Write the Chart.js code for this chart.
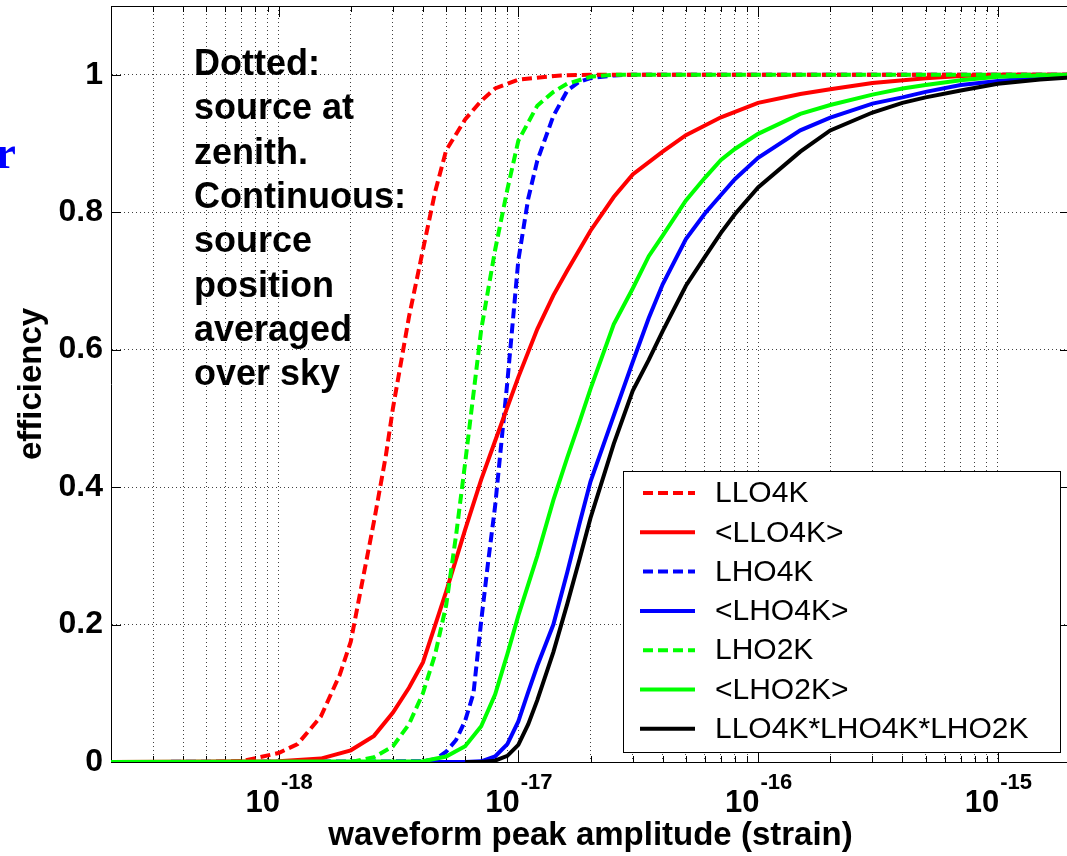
<!DOCTYPE html>
<html>
<head>
<meta charset="utf-8">
<script src="https://cdn.jsdelivr.net/npm/chart.js@4.4.1/dist/chart.umd.min.js"></script>
<style>
  html, body { margin: 0; padding: 0; background: #fff; overflow: hidden; }
  #wrap { position: absolute; left: 0; top: 0; width: 1080px; height: 856px; }
</style>
</head>
<body>
<div id="wrap"><canvas id="c"></canvas></div>
<script>
// ---------- data ----------
const seriesLabels = ['LLO4K', '<LLO4K>', 'LHO4K', '<LHO4K>', 'LHO2K', '<LHO2K>', 'LLO4K*LHO4K*LHO2K'];

const llo4kZenithX = [2e-19, 5e-19, 7e-19, 1e-18, 1.2e-18, 1.5e-18, 1.8e-18, 2e-18, 2.2e-18, 2.5e-18, 2.8e-18, 3e-18, 3.5e-18, 4e-18, 4.5e-18, 5e-18, 6e-18, 7e-18, 8e-18, 1e-17, 1.5e-17, 2e-17, 2e-15];
const llo4kZenithY = [0, 0, 0.001, 0.013, 0.026, 0.066, 0.127, 0.175, 0.25, 0.35, 0.445, 0.515, 0.648, 0.745, 0.83, 0.89, 0.935, 0.962, 0.98, 0.993, 0.999, 1, 1];

const llo4kAvgX = [2e-19, 1e-18, 1.5e-18, 2e-18, 2.5e-18, 3e-18, 3.5e-18, 4e-18, 5e-18, 6e-18, 7e-18, 8e-18, 1e-17, 1.2e-17, 1.4e-17, 1.6e-17, 2e-17, 2.5e-17, 3e-17, 4e-17, 5e-17, 7e-17, 1e-16, 1.5e-16, 2e-16, 3e-16, 5e-16, 7e-16, 1e-15, 2e-15];
const llo4kAvgY = [0, 0.001, 0.005, 0.017, 0.038, 0.072, 0.108, 0.145, 0.248, 0.338, 0.411, 0.467, 0.56, 0.63, 0.679, 0.715, 0.773, 0.822, 0.855, 0.888, 0.912, 0.938, 0.959, 0.972, 0.979, 0.988, 0.995, 0.998, 1, 1];

const lho4kZenithX = [2e-19, 4e-18, 4.5e-18, 5e-18, 5.5e-18, 6e-18, 6.5e-18, 7e-18, 7.5e-18, 8e-18, 9e-18, 1e-17, 1.1e-17, 1.2e-17, 1.4e-17, 1.6e-17, 1.8e-17, 2e-17, 2.5e-17, 3e-17, 2e-15];
const lho4kZenithY = [0, 0.001, 0.004, 0.015, 0.032, 0.06, 0.1, 0.205, 0.294, 0.372, 0.553, 0.73, 0.82, 0.875, 0.94, 0.977, 0.99, 0.995, 0.999, 1, 1];

const lho4kAvgX = [2e-19, 6e-18, 7e-18, 8e-18, 9e-18, 1e-17, 1.1e-17, 1.2e-17, 1.4e-17, 1.6e-17, 1.8e-17, 2e-17, 2.5e-17, 3e-17, 3.5e-17, 4e-17, 5e-17, 6e-17, 7e-17, 8e-17, 1e-16, 1.5e-16, 2e-16, 3e-16, 4e-16, 5e-16, 7e-16, 1e-15, 1.5e-15, 2e-15];
const lho4kAvgY = [0, 0, 0.001, 0.008, 0.026, 0.059, 0.102, 0.14, 0.2, 0.276, 0.347, 0.408, 0.504, 0.582, 0.646, 0.695, 0.761, 0.798, 0.825, 0.848, 0.879, 0.919, 0.9375, 0.958, 0.967, 0.975, 0.985, 0.991, 0.996, 0.999];

const lho2kZenithX = [2e-19, 2e-18, 2.5e-18, 3e-18, 3.5e-18, 4e-18, 4.5e-18, 5e-18, 5.5e-18, 6e-18, 7e-18, 8e-18, 9e-18, 1e-17, 1.2e-17, 1.4e-17, 1.6e-17, 2e-17, 2.5e-17, 2e-15];
const lho2kZenithY = [0, 0, 0.007, 0.023, 0.055, 0.1, 0.157, 0.228, 0.33, 0.435, 0.629, 0.745, 0.833, 0.904, 0.955, 0.975, 0.987, 0.997, 1, 1];

const lho2kAvgX = [2e-19, 4e-18, 5e-18, 6e-18, 7e-18, 8e-18, 9e-18, 1e-17, 1.2e-17, 1.4e-17, 1.6e-17, 1.8e-17, 2e-17, 2.5e-17, 3e-17, 3.5e-17, 4e-17, 5e-17, 6e-17, 7e-17, 8e-17, 1e-16, 1.5e-16, 2e-16, 3e-16, 4e-16, 5e-16, 7e-16, 1e-15, 1.5e-15, 2e-15];
const lho2kAvgY = [0, 0.001, 0.008, 0.023, 0.052, 0.098, 0.157, 0.213, 0.3, 0.381, 0.443, 0.495, 0.543, 0.637, 0.689, 0.736, 0.766, 0.817, 0.85, 0.876, 0.892, 0.914, 0.943, 0.956, 0.971, 0.98, 0.985, 0.992, 0.997, 0.999, 1];

const productX = [6e-18, 7e-18, 8e-18, 9e-18, 1e-17, 1.1e-17, 1.2e-17, 1.4e-17, 1.6e-17, 1.8e-17, 2e-17, 2.5e-17, 3e-17, 3.5e-17, 4e-17, 5e-17, 6e-17, 7e-17, 8e-17, 1e-16, 1.5e-16, 2e-16, 3e-16, 4e-16, 5e-16, 7e-16, 1e-15, 1.5e-15, 2e-15];
const productY = [0, 0, 0.002, 0.009, 0.025, 0.055, 0.09, 0.16, 0.23, 0.295, 0.355, 0.463, 0.54, 0.585, 0.627, 0.693, 0.735, 0.77, 0.797, 0.836, 0.888, 0.919, 0.945, 0.959, 0.967, 0.977, 0.987, 0.993, 0.996];

// axes
const xMin = 2e-19, xMax = 2e-15;
const xMajorTicks = [1e-18, 1e-17, 1e-16, 1e-15];
const xMajorExp = ['-18', '-17', '-16', '-15'];
const xMinorMantissa = [2, 3, 4, 5, 6, 7, 8, 9];
const xDecades = [1e-19, 1e-18, 1e-17, 1e-16, 1e-15];
const yMin = 0, yMax = 1.1;
const yTicks = [0, 0.2, 0.4, 0.6, 0.8, 1];
const yTickLabels = ['0', '0.2', '0.4', '0.6', '0.8', '1'];

const xTitle = 'waveform peak amplitude (strain)';
const yTitle = 'efficiency';
const noteLines = ['Dotted:', 'source at', 'zenith.', 'Continuous:', 'source', 'position', 'averaged', 'over sky'];
const cornerText = 'r';

// ---------- build ----------
const pts = (xs, ys) => xs.map((x, i) => ({ x: x, y: ys[i] }));
const FONT = '"Liberation Sans", Arial, Helvetica, sans-serif';
const DASH = [10, 5];
const LW = 4;

// z: lower value = drawn on top
const seriesDefs = [
  { x: llo4kZenithX, y: llo4kZenithY, color: '#ff0000', dash: DASH, z: 5 },
  { x: llo4kAvgX, y: llo4kAvgY, color: '#ff0000', dash: [], z: 4 },
  { x: lho4kZenithX, y: lho4kZenithY, color: '#0000ff', dash: DASH, z: 6 },
  { x: lho4kAvgX, y: lho4kAvgY, color: '#0000ff', dash: [], z: 3 },
  { x: lho2kZenithX, y: lho2kZenithY, color: '#00ff00', dash: DASH, z: 2 },
  { x: lho2kAvgX, y: lho2kAvgY, color: '#00ff00', dash: [], z: 1 },
  { x: productX, y: productY, color: '#000000', dash: [], z: 0 }
];

const datasets = seriesDefs.map((s, i) => ({
  label: seriesLabels[i],
  data: pts(s.x, s.y),
  borderColor: s.color,
  backgroundColor: s.color,
  borderWidth: LW,
  borderDash: s.dash,
  pointRadius: 0,
  fill: false,
  tension: 0,
  order: s.z
}));

const xTickValues = [];
xDecades.forEach(d => {
  [1].concat(xMinorMantissa).forEach(m => {
    const v = m * d;
    if (v >= xMin * 0.999 && v <= xMax * 1.001) xTickValues.push(v);
  });
});
const isMajor = v => xMajorTicks.some(m => Math.abs(v / m - 1) < 1e-6);

const decorPlugin = {
  id: 'decor',
  beforeDatasetsDraw(chart) {
    const { ctx, chartArea: a, scales: { x, y } } = chart;
    ctx.save();
    ctx.strokeStyle = '#000';
    ctx.lineWidth = 1;
    ctx.setLineDash([]);
    ctx.beginPath();
    ctx.moveTo(a.left, a.top + 0.5); ctx.lineTo(a.right, a.top + 0.5);
    ctx.moveTo(a.right - 0.5, a.top); ctx.lineTo(a.right - 0.5, a.bottom);
    xTickValues.forEach(v => {
      const px = Math.round(x.getPixelForValue(v)) + 0.5;
      const len = isMajor(v) ? 11 : 6;
      ctx.moveTo(px, a.bottom); ctx.lineTo(px, a.bottom - len);
      ctx.moveTo(px, a.top); ctx.lineTo(px, a.top + len);
    });
    yTicks.forEach(v => {
      const py = Math.round(y.getPixelForValue(v)) + 0.5;
      ctx.moveTo(a.left, py); ctx.lineTo(a.left + 10, py);
      ctx.moveTo(a.right, py); ctx.lineTo(a.right - 10, py);
    });
    ctx.stroke();
    ctx.restore();
  },
  afterDraw(chart) {
    const { ctx, chartArea: a, scales: { x } } = chart;
    ctx.save();
    xMajorTicks.forEach((v, i) => {
      const px = x.getPixelForValue(v);
      ctx.font = 'bold 31px ' + FONT;
      const w1 = ctx.measureText('10').width;
      ctx.font = 'bold 22px ' + FONT;
      const w2 = ctx.measureText(xMajorExp[i]).width;
      const start = px - (w1 + w2) / 2;
      ctx.fillStyle = '#000';
      ctx.textBaseline = 'alphabetic';
      ctx.textAlign = 'left';
      ctx.font = 'bold 31px ' + FONT;
      ctx.fillText('10', start, 812);
      ctx.font = 'bold 22px ' + FONT;
      ctx.fillText(xMajorExp[i], start + w1 + 1, 789);
    });
    ctx.font = 'bold 36px ' + FONT;
    ctx.fillStyle = '#000';
    noteLines.forEach((t, i) => ctx.fillText(t, 194, 75 + i * 44.3));
    ctx.font = 'bold 46px "Liberation Serif", "Times New Roman", serif';
    ctx.fillStyle = '#0000ff';
    ctx.textAlign = 'right';
    ctx.fillText(cornerText, 16, 168);
    const L = { x: 623, y: 471, w: 437, h: 281 };
    ctx.fillStyle = '#fff';
    ctx.fillRect(L.x, L.y, L.w, L.h);
    ctx.strokeStyle = '#000';
    ctx.lineWidth = 1;
    ctx.setLineDash([]);
    ctx.strokeRect(L.x + 0.5, L.y + 0.5, L.w, L.h);
    ctx.font = '30px ' + FONT;
    ctx.textAlign = 'left';
    ctx.textBaseline = 'middle';
    chart.data.datasets.forEach((ds, i) => {
      const yy = 493 + i * 39.3;
      ctx.strokeStyle = ds.borderColor;
      ctx.lineWidth = LW;
      ctx.setLineDash(ds.borderDash || []);
      ctx.beginPath();
      const dashed = ds.borderDash && ds.borderDash.length;
      ctx.moveTo(dashed ? 643 : 640, yy);
      ctx.lineTo(695, yy);
      ctx.stroke();
      ctx.setLineDash([]);
      ctx.fillStyle = '#000';
      ctx.fillText(ds.label, 715, yy + 1);
    });
    ctx.restore();
  }
};

new Chart(document.getElementById('c'), {
  type: 'line',
  data: { datasets: datasets },
  options: {
    responsive: true,
    maintainAspectRatio: false,
    animation: false,
    layout: { padding: { left: 0, right: 10, top: 6, bottom: 0 } },
    plugins: { legend: { display: false }, tooltip: { enabled: false } },
    scales: {
      x: {
        type: 'logarithmic',
        min: xMin,
        max: xMax,
        afterBuildTicks: s => { s.ticks = xTickValues.map(v => ({ value: v, major: isMajor(v) })); },
        afterFit: s => { s.height = 94; s.paddingLeft = 0; s.paddingRight = 0; },
        ticks: { display: false },
        grid: { color: 'rgba(0,0,0,0.75)', lineWidth: 1, drawTicks: false },
        border: { display: true, color: '#000', width: 1, dash: [1, 3] },
        title: { display: true, text: xTitle, font: { family: FONT, size: 33, weight: 'bold' }, color: '#000', padding: { top: 0, bottom: 0 } }
      },
      y: {
        type: 'linear',
        min: yMin,
        max: yMax,
        afterBuildTicks: s => { s.ticks = yTicks.map(v => ({ value: v })); },
        afterFit: s => { s.width = 111; s.paddingTop = 0; s.paddingBottom = 0; },
        ticks: {
          padding: 8,
          color: '#000',
          font: { family: FONT, size: 32, weight: 'bold' },
          callback: (v) => { const k = yTicks.findIndex(t => Math.abs(t - v) < 1e-9); return k >= 0 ? yTickLabels[k] : ''; }
        },
        grid: { color: 'rgba(0,0,0,0.75)', lineWidth: 1, drawTicks: false },
        border: { display: true, color: '#000', width: 1, dash: [1, 3] },
        title: { display: true, text: yTitle, font: { family: FONT, size: 33, weight: 'bold' }, color: '#000', padding: { top: 12, bottom: 0 } }
      }
    }
  },
  plugins: [decorPlugin]
});
</script>
</body>
</html>
